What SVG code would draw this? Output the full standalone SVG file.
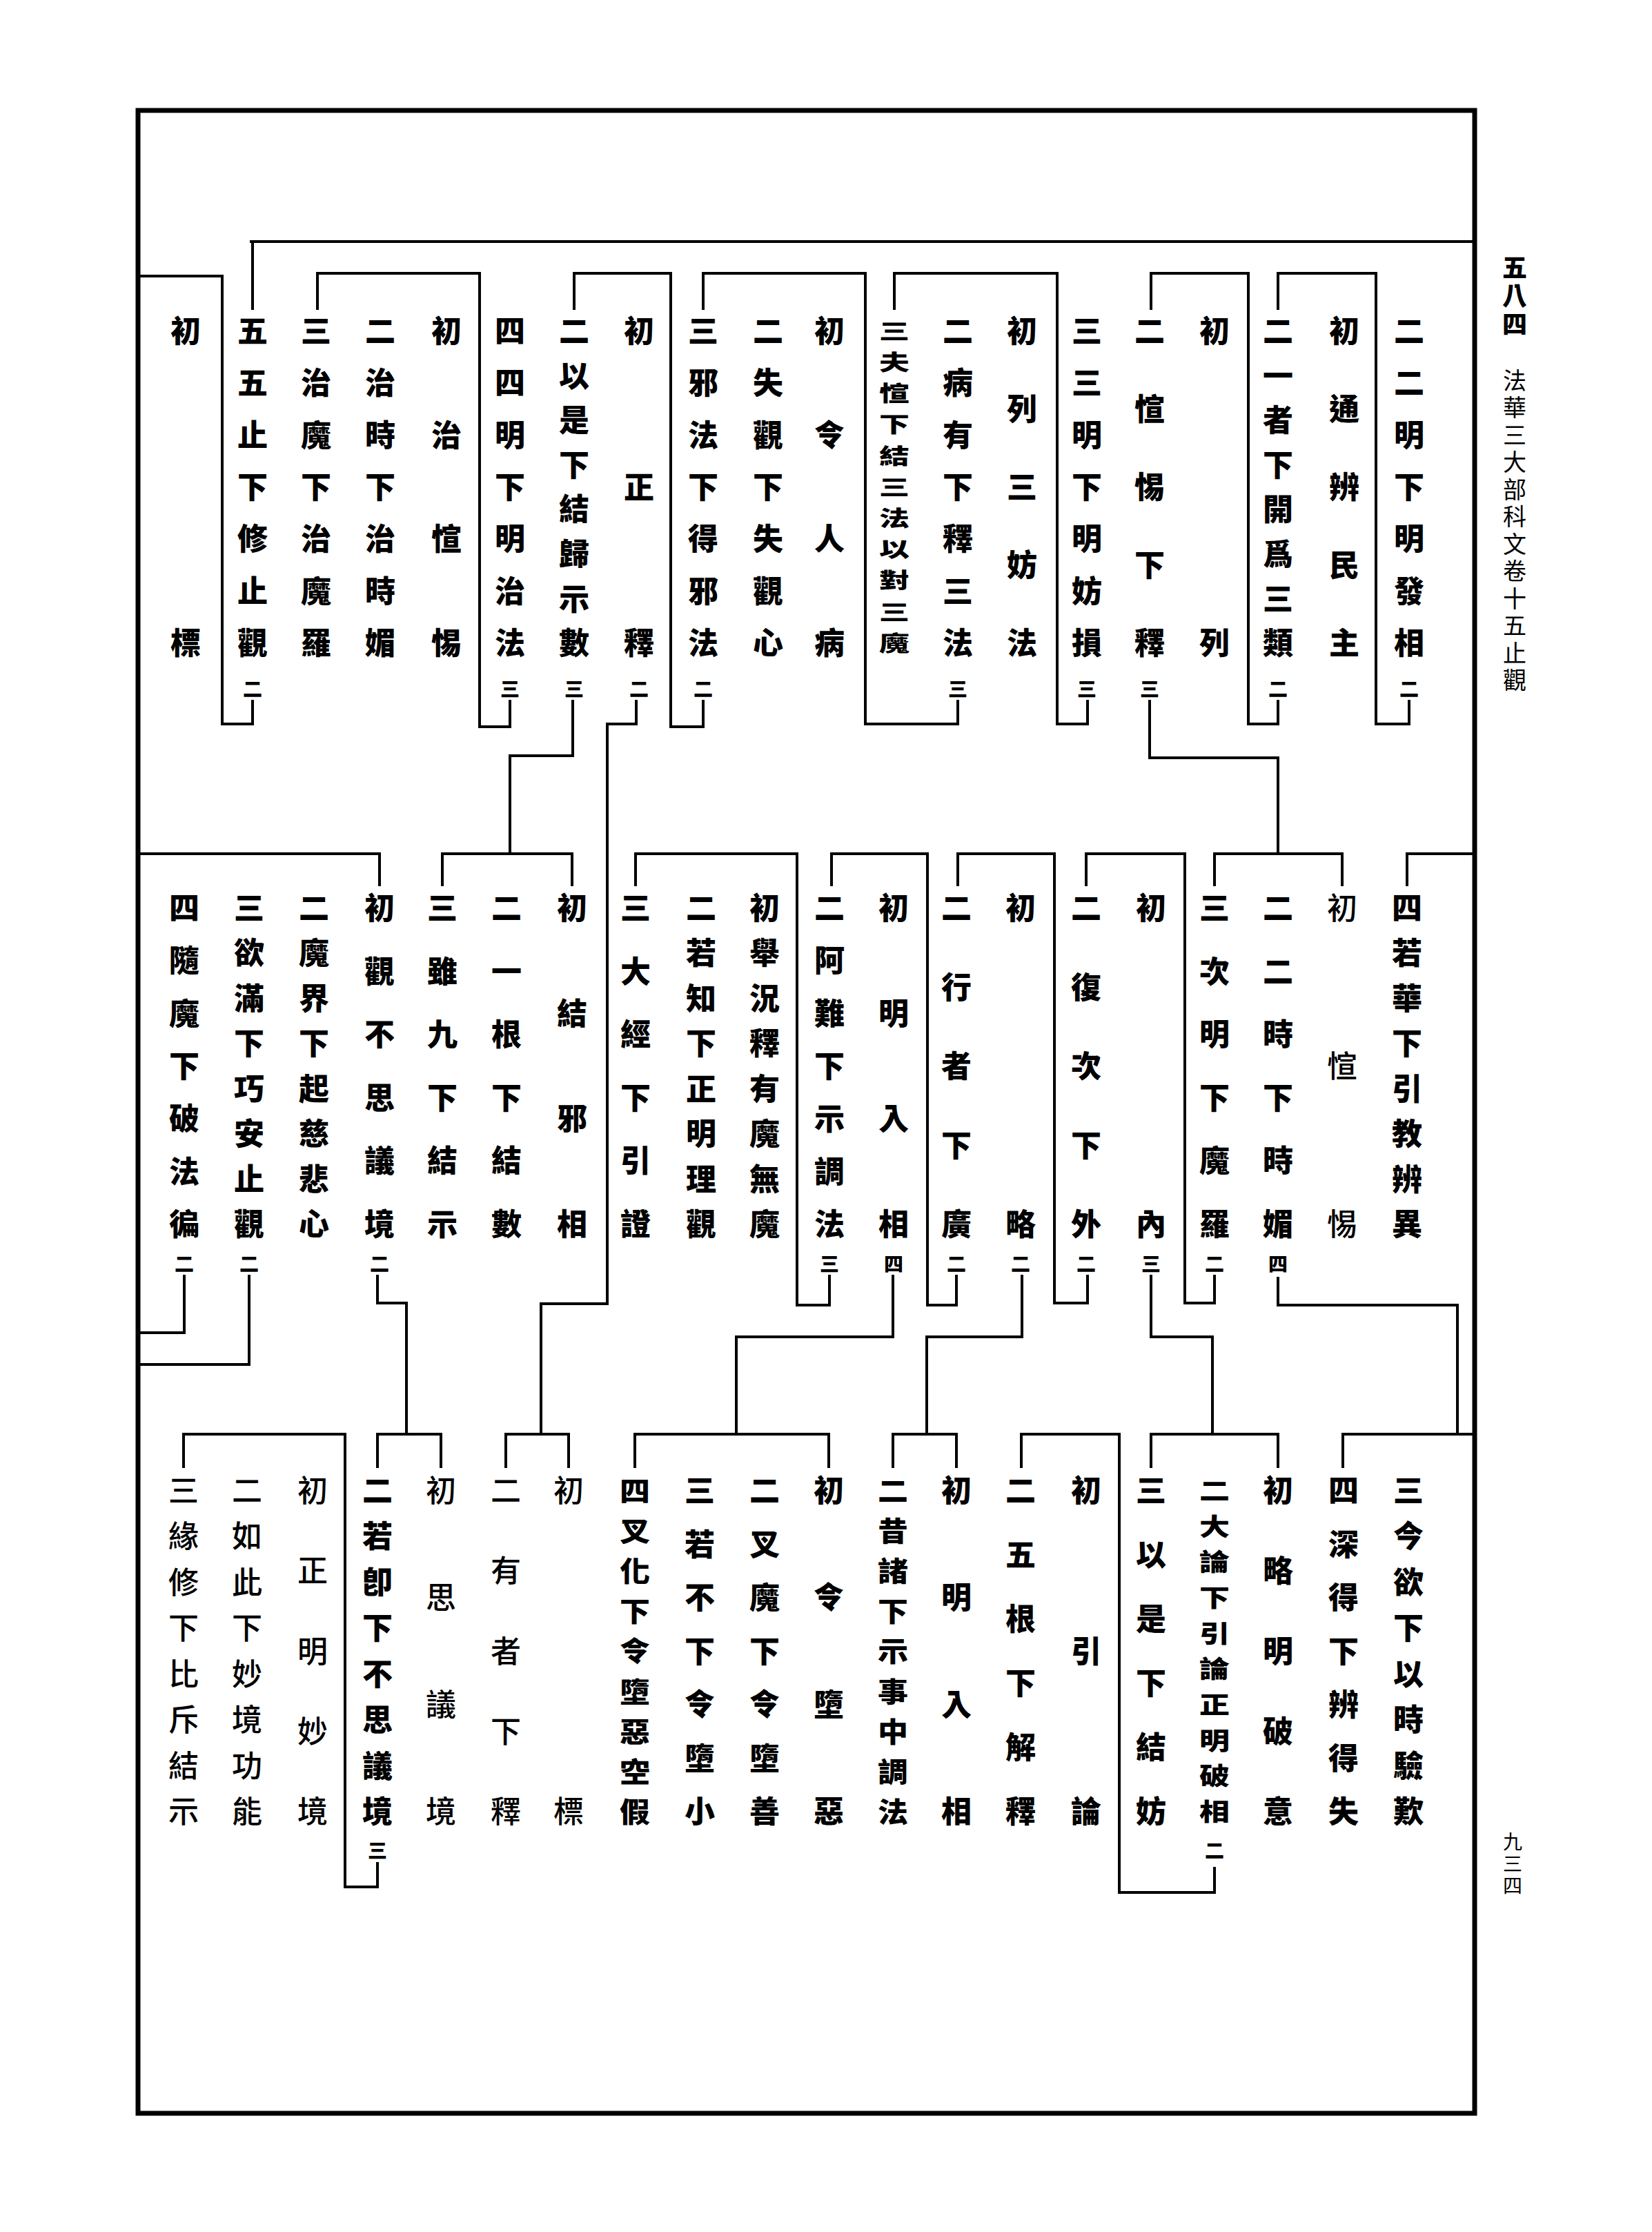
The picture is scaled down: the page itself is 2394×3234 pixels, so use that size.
<svg xmlns="http://www.w3.org/2000/svg" width="2394" height="3234" viewBox="0 0 2394 3234">
<style>
.bg{fill:#fff}
.frame{fill:none;stroke:#000;stroke-width:7}
.c{fill:none;stroke:#000;stroke-width:4;stroke-linecap:square;stroke-linejoin:miter}
.t{font-family:"Noto Sans CJK TC","Noto Sans CJK SC","Noto Sans CJK JP",sans-serif;font-size:44px;font-weight:900;text-anchor:middle;dominant-baseline:central;fill:#000}
.l{font-weight:500}
.s{font-size:28px}
.hv{font-family:"Noto Sans CJK TC","Noto Sans CJK SC",sans-serif;font-size:34px;font-weight:400;writing-mode:vertical-rl;text-anchor:start;fill:#000}
.hb{font-weight:900;font-size:36px;letter-spacing:5px}
.ht{letter-spacing:5.5px}
.pn{font-size:28px;letter-spacing:4px}
</style>
<rect class="bg" x="0" y="0" width="2394" height="3234"/>
<rect class="frame" x="200" y="160" width="1937" height="2902"/>

<g id="header">
<text class="hv hb" x="2195" y="369">五八四</text>
<text class="hv ht" x="2195" y="534">法華三大部科文卷十五止觀</text>
<text class="hv pn" x="2192" y="2654">九三四</text>
</g>

<g id="connectors">
<path class="c" d="M364,350 H2137 M366,350 V447"/>
<path class="c" d="M2042,1016 V1049 H1994 V396 H1852 V447"/>
<path class="c" d="M1852,1016 V1049 H1809 V396 H1668 V447"/>
<path class="c" d="M1666,1016 V1098 H1852 V1237"/>
<path class="c" d="M1576,1016 V1049 H1532 V396 H1296 V447"/>
<path class="c" d="M1388,1016 V1049 H1254 V396 H1019 V447"/>
<path class="c" d="M1019,1016 V1053 H972 V396 H832 V447"/>
<path class="c" d="M922,1016 V1049 H880 V1889 H784 V2078"/>
<path class="c" d="M830,1016 V1095 H739 V1237"/>
<path class="c" d="M739,1016 V1053 H695 V396 H460 V447"/>
<path class="c" d="M366,1016 V1049 H322 V400 H203"/>

<path class="c" d="M1760,1282 V1237 H1945 V1282"/>
<path class="c" d="M2137,1237 H2039 V1282"/>
<path class="c" d="M1852,1852 V1891 H2112 V2078"/>
<path class="c" d="M1760,1849 V1888 H1717 V1237 H1574 V1282"/>
<path class="c" d="M1668,1849 V1937 H1757 V2078"/>
<path class="c" d="M1576,1849 V1888 H1528 V1237 H1388 V1282"/>
<path class="c" d="M1481,1849 V1937 H1343 V2078"/>
<path class="c" d="M1386,1849 V1891 H1344 V1237 H1205 V1282"/>
<path class="c" d="M1294,1849 V1937 H1067 V2078"/>
<path class="c" d="M1202,1849 V1891 H1155 V1237 H921 V1282"/>
<path class="c" d="M829,1282 V1237 H641 V1282"/>
<path class="c" d="M203,1237 H550 V1282"/>
<path class="c" d="M547,1849 V1888 H589 V2078"/>
<path class="c" d="M361,1849 V1977 H203"/>
<path class="c" d="M267,1849 V1931 H203"/>

<path class="c" d="M1946,2125 V2078 H2137"/>
<path class="c" d="M1852,2125 V2078 H1668 V2125"/>
<path class="c" d="M1760,2707 V2742 H1622 V2078 H1480 V2125"/>
<path class="c" d="M1386,2125 V2078 H1294 V2125"/>
<path class="c" d="M1201,2125 V2078 H920 V2125"/>
<path class="c" d="M824,2125 V2078 H733 V2125"/>
<path class="c" d="M639,2125 V2078 H547 V2125"/>
<path class="c" d="M547,2700 V2734 H500 V2078 H266 V2125"/>
</g>

<g id="c1"><text class="t"><tspan x="2042" y="477">二</tspan><tspan x="2042" y="552">二</tspan><tspan x="2042" y="628">明</tspan><tspan x="2042" y="703">下</tspan><tspan x="2042" y="778">明</tspan><tspan x="2042" y="854">發</tspan><tspan x="2042" y="929">相</tspan><tspan class="s" x="2042" y="997">二</tspan></text></g>
<g id="c2"><text class="t"><tspan x="1948" y="477">初</tspan><tspan x="1948" y="590">通</tspan><tspan x="1948" y="703">辨</tspan><tspan x="1948" y="816">民</tspan><tspan x="1948" y="929">主</tspan></text></g>
<g id="c3"><text class="t"><tspan x="1852" y="477">二</tspan><tspan x="1852" y="542">一</tspan><tspan x="1852" y="606">者</tspan><tspan x="1852" y="671">下</tspan><tspan x="1852" y="735">開</tspan><tspan x="1852" y="800">爲</tspan><tspan x="1852" y="865">三</tspan><tspan x="1852" y="929">類</tspan><tspan class="s" x="1852" y="997">二</tspan></text></g>
<g id="c4"><text class="t"><tspan x="1760" y="477">初</tspan><tspan x="1760" y="929">列</tspan></text></g>
<g id="c5"><text class="t"><tspan x="1666" y="477">二</tspan><tspan x="1666" y="590">愃</tspan><tspan x="1666" y="703">惕</tspan><tspan x="1666" y="816">下</tspan><tspan x="1666" y="929">釋</tspan><tspan class="s" x="1666" y="997">三</tspan></text></g>
<g id="c6"><text class="t"><tspan x="1575" y="477">三</tspan><tspan x="1575" y="552">三</tspan><tspan x="1575" y="628">明</tspan><tspan x="1575" y="703">下</tspan><tspan x="1575" y="778">明</tspan><tspan x="1575" y="854">妨</tspan><tspan x="1575" y="929">損</tspan><tspan class="s" x="1575" y="997">三</tspan></text></g>
<g id="c7"><text class="t"><tspan x="1481" y="477">初</tspan><tspan x="1481" y="590">列</tspan><tspan x="1481" y="703">三</tspan><tspan x="1481" y="816">妨</tspan><tspan x="1481" y="929">法</tspan></text></g>
<g id="c8"><text class="t"><tspan x="1388" y="477">二</tspan><tspan x="1388" y="552">病</tspan><tspan x="1388" y="628">有</tspan><tspan x="1388" y="703">下</tspan><tspan x="1388" y="778">釋</tspan><tspan x="1388" y="854">三</tspan><tspan x="1388" y="929">法</tspan><tspan class="s" x="1388" y="997">三</tspan></text></g>
<g id="c9"><text class="t" transform="translate(0,477) scale(1,0.7)"><tspan x="1296" y="0">三</tspan><tspan x="1296" y="64.6">夫</tspan><tspan x="1296" y="129.1">愃</tspan><tspan x="1296" y="193.7">下</tspan><tspan x="1296" y="258.3">結</tspan><tspan x="1296" y="322.9">三</tspan><tspan x="1296" y="387.4">法</tspan><tspan x="1296" y="452">以</tspan><tspan x="1296" y="516.6">對</tspan><tspan x="1296" y="581.1">三</tspan><tspan x="1296" y="645.7">魔</tspan></text></g>
<g id="c10"><text class="t"><tspan x="1202" y="477">初</tspan><tspan x="1202" y="628">令</tspan><tspan x="1202" y="778">人</tspan><tspan x="1202" y="929">病</tspan></text></g>
<g id="c11"><text class="t"><tspan x="1113" y="477">二</tspan><tspan x="1113" y="552">失</tspan><tspan x="1113" y="628">觀</tspan><tspan x="1113" y="703">下</tspan><tspan x="1113" y="778">失</tspan><tspan x="1113" y="854">觀</tspan><tspan x="1113" y="929">心</tspan></text></g>
<g id="c12"><text class="t"><tspan x="1019" y="477">三</tspan><tspan x="1019" y="552">邪</tspan><tspan x="1019" y="628">法</tspan><tspan x="1019" y="703">下</tspan><tspan x="1019" y="778">得</tspan><tspan x="1019" y="854">邪</tspan><tspan x="1019" y="929">法</tspan><tspan class="s" x="1019" y="997">二</tspan></text></g>
<g id="c13"><text class="t"><tspan x="926" y="477">初</tspan><tspan x="926" y="703">正</tspan><tspan x="926" y="929">釋</tspan><tspan class="s" x="926" y="997">二</tspan></text></g>
<g id="c14"><text class="t"><tspan x="832" y="477">二</tspan><tspan x="832" y="542">以</tspan><tspan x="832" y="606">是</tspan><tspan x="832" y="671">下</tspan><tspan x="832" y="735">結</tspan><tspan x="832" y="800">歸</tspan><tspan x="832" y="865">示</tspan><tspan x="832" y="929">數</tspan><tspan class="s" x="832" y="997">三</tspan></text></g>
<g id="c15"><text class="t"><tspan x="739" y="477">四</tspan><tspan x="739" y="552">四</tspan><tspan x="739" y="628">明</tspan><tspan x="739" y="703">下</tspan><tspan x="739" y="778">明</tspan><tspan x="739" y="854">治</tspan><tspan x="739" y="929">法</tspan><tspan class="s" x="739" y="997">三</tspan></text></g>
<g id="c16"><text class="t"><tspan x="647" y="477">初</tspan><tspan x="647" y="628">治</tspan><tspan x="647" y="778">愃</tspan><tspan x="647" y="929">惕</tspan></text></g>
<g id="c17"><text class="t"><tspan x="551" y="477">二</tspan><tspan x="551" y="552">治</tspan><tspan x="551" y="628">時</tspan><tspan x="551" y="703">下</tspan><tspan x="551" y="778">治</tspan><tspan x="551" y="854">時</tspan><tspan x="551" y="929">媚</tspan></text></g>
<g id="c18"><text class="t"><tspan x="458" y="477">三</tspan><tspan x="458" y="552">治</tspan><tspan x="458" y="628">魔</tspan><tspan x="458" y="703">下</tspan><tspan x="458" y="778">治</tspan><tspan x="458" y="854">魔</tspan><tspan x="458" y="929">羅</tspan></text></g>
<g id="c19"><text class="t"><tspan x="366" y="477">五</tspan><tspan x="366" y="552">五</tspan><tspan x="366" y="628">止</tspan><tspan x="366" y="703">下</tspan><tspan x="366" y="778">修</tspan><tspan x="366" y="854">止</tspan><tspan x="366" y="929">觀</tspan><tspan class="s" x="366" y="997">二</tspan></text></g>
<g id="c20"><text class="t"><tspan x="269" y="477">初</tspan><tspan x="269" y="929">標</tspan></text></g>

<g id="m1"><text class="t"><tspan x="2039" y="1313">四</tspan><tspan x="2039" y="1378">若</tspan><tspan x="2039" y="1444">華</tspan><tspan x="2039" y="1509">下</tspan><tspan x="2039" y="1575">引</tspan><tspan x="2039" y="1640">教</tspan><tspan x="2039" y="1706">辨</tspan><tspan x="2039" y="1771">異</tspan></text></g>
<g id="m2"><text class="t l"><tspan x="1945" y="1313">初</tspan><tspan x="1945" y="1542">愃</tspan><tspan x="1945" y="1771">惕</tspan></text></g>
<g id="m3"><text class="t"><tspan x="1852" y="1313">二</tspan><tspan x="1852" y="1405">二</tspan><tspan x="1852" y="1496">時</tspan><tspan x="1852" y="1588">下</tspan><tspan x="1852" y="1679">時</tspan><tspan x="1852" y="1771">媚</tspan><tspan class="s" x="1852" y="1830">四</tspan></text></g>
<g id="m4"><text class="t"><tspan x="1760" y="1313">三</tspan><tspan x="1760" y="1405">次</tspan><tspan x="1760" y="1496">明</tspan><tspan x="1760" y="1588">下</tspan><tspan x="1760" y="1679">魔</tspan><tspan x="1760" y="1771">羅</tspan><tspan class="s" x="1760" y="1830">二</tspan></text></g>
<g id="m5"><text class="t"><tspan x="1668" y="1313">初</tspan><tspan x="1668" y="1771">內</tspan><tspan class="s" x="1668" y="1830">三</tspan></text></g>
<g id="m6"><text class="t"><tspan x="1574" y="1313">二</tspan><tspan x="1574" y="1428">復</tspan><tspan x="1574" y="1542">次</tspan><tspan x="1574" y="1657">下</tspan><tspan x="1574" y="1771">外</tspan><tspan class="s" x="1574" y="1830">二</tspan></text></g>
<g id="m7"><text class="t"><tspan x="1479" y="1313">初</tspan><tspan x="1479" y="1771">略</tspan><tspan class="s" x="1479" y="1830">二</tspan></text></g>
<g id="m8"><text class="t"><tspan x="1386" y="1313">二</tspan><tspan x="1386" y="1428">行</tspan><tspan x="1386" y="1542">者</tspan><tspan x="1386" y="1657">下</tspan><tspan x="1386" y="1771">廣</tspan><tspan class="s" x="1386" y="1830">二</tspan></text></g>
<g id="m9"><text class="t"><tspan x="1295" y="1313">初</tspan><tspan x="1295" y="1466">明</tspan><tspan x="1295" y="1618">入</tspan><tspan x="1295" y="1771">相</tspan><tspan class="s" x="1295" y="1830">四</tspan></text></g>
<g id="m10"><text class="t"><tspan x="1202" y="1313">二</tspan><tspan x="1202" y="1389">阿</tspan><tspan x="1202" y="1466">難</tspan><tspan x="1202" y="1542">下</tspan><tspan x="1202" y="1618">示</tspan><tspan x="1202" y="1695">調</tspan><tspan x="1202" y="1771">法</tspan><tspan class="s" x="1202" y="1830">三</tspan></text></g>
<g id="m11"><text class="t"><tspan x="1108" y="1313">初</tspan><tspan x="1108" y="1378">舉</tspan><tspan x="1108" y="1444">況</tspan><tspan x="1108" y="1509">釋</tspan><tspan x="1108" y="1575">有</tspan><tspan x="1108" y="1640">魔</tspan><tspan x="1108" y="1706">無</tspan><tspan x="1108" y="1771">魔</tspan></text></g>
<g id="m12"><text class="t"><tspan x="1016" y="1313">二</tspan><tspan x="1016" y="1378">若</tspan><tspan x="1016" y="1444">知</tspan><tspan x="1016" y="1509">下</tspan><tspan x="1016" y="1575">正</tspan><tspan x="1016" y="1640">明</tspan><tspan x="1016" y="1706">理</tspan><tspan x="1016" y="1771">觀</tspan></text></g>
<g id="m13"><text class="t"><tspan x="921" y="1313">三</tspan><tspan x="921" y="1405">大</tspan><tspan x="921" y="1496">經</tspan><tspan x="921" y="1588">下</tspan><tspan x="921" y="1679">引</tspan><tspan x="921" y="1771">證</tspan></text></g>
<g id="m14"><text class="t"><tspan x="829" y="1313">初</tspan><tspan x="829" y="1466">結</tspan><tspan x="829" y="1618">邪</tspan><tspan x="829" y="1771">相</tspan></text></g>
<g id="m15"><text class="t"><tspan x="734" y="1313">二</tspan><tspan x="734" y="1405">一</tspan><tspan x="734" y="1496">根</tspan><tspan x="734" y="1588">下</tspan><tspan x="734" y="1679">結</tspan><tspan x="734" y="1771">數</tspan></text></g>
<g id="m16"><text class="t"><tspan x="641" y="1313">三</tspan><tspan x="641" y="1405">雖</tspan><tspan x="641" y="1496">九</tspan><tspan x="641" y="1588">下</tspan><tspan x="641" y="1679">結</tspan><tspan x="641" y="1771">示</tspan></text></g>
<g id="m17"><text class="t"><tspan x="550" y="1313">初</tspan><tspan x="550" y="1405">觀</tspan><tspan x="550" y="1496">不</tspan><tspan x="550" y="1588">思</tspan><tspan x="550" y="1679">議</tspan><tspan x="550" y="1771">境</tspan><tspan class="s" x="550" y="1830">二</tspan></text></g>
<g id="m18"><text class="t"><tspan x="455" y="1313">二</tspan><tspan x="455" y="1378">魔</tspan><tspan x="455" y="1444">界</tspan><tspan x="455" y="1509">下</tspan><tspan x="455" y="1575">起</tspan><tspan x="455" y="1640">慈</tspan><tspan x="455" y="1706">悲</tspan><tspan x="455" y="1771">心</tspan></text></g>
<g id="m19"><text class="t"><tspan x="361" y="1313">三</tspan><tspan x="361" y="1378">欲</tspan><tspan x="361" y="1444">滿</tspan><tspan x="361" y="1509">下</tspan><tspan x="361" y="1575">巧</tspan><tspan x="361" y="1640">安</tspan><tspan x="361" y="1706">止</tspan><tspan x="361" y="1771">觀</tspan><tspan class="s" x="361" y="1830">二</tspan></text></g>
<g id="m20"><text class="t"><tspan x="267" y="1313">四</tspan><tspan x="267" y="1389">隨</tspan><tspan x="267" y="1466">魔</tspan><tspan x="267" y="1542">下</tspan><tspan x="267" y="1618">破</tspan><tspan x="267" y="1695">法</tspan><tspan x="267" y="1771">徧</tspan><tspan class="s" x="267" y="1830">二</tspan></text></g>

<g id="b1"><text class="t"><tspan x="2041" y="2157">三</tspan><tspan x="2041" y="2223">今</tspan><tspan x="2041" y="2290">欲</tspan><tspan x="2041" y="2356">下</tspan><tspan x="2041" y="2423">以</tspan><tspan x="2041" y="2489">時</tspan><tspan x="2041" y="2556">驗</tspan><tspan x="2041" y="2622">歎</tspan></text></g>
<g id="b2"><text class="t"><tspan x="1947" y="2157">四</tspan><tspan x="1947" y="2235">深</tspan><tspan x="1947" y="2312">得</tspan><tspan x="1947" y="2390">下</tspan><tspan x="1947" y="2467">辨</tspan><tspan x="1947" y="2545">得</tspan><tspan x="1947" y="2622">失</tspan></text></g>
<g id="b3"><text class="t"><tspan x="1852" y="2157">初</tspan><tspan x="1852" y="2273">略</tspan><tspan x="1852" y="2390">明</tspan><tspan x="1852" y="2506">破</tspan><tspan x="1852" y="2622">意</tspan></text></g>
<g id="b4"><text class="t" transform="translate(0,2157) scale(1,0.8)"><tspan x="1760" y="0">二</tspan><tspan x="1760" y="64.6">大</tspan><tspan x="1760" y="129.2">論</tspan><tspan x="1760" y="193.8">下</tspan><tspan x="1760" y="258.3">引</tspan><tspan x="1760" y="322.9">論</tspan><tspan x="1760" y="387.5">正</tspan><tspan x="1760" y="452.1">明</tspan><tspan x="1760" y="516.7">破</tspan><tspan x="1760" y="581.2">相</tspan></text><text class="t s" x="1760" y="2680">二</text></g>
<g id="b5"><text class="t"><tspan x="1668" y="2157">三</tspan><tspan x="1668" y="2250">以</tspan><tspan x="1668" y="2343">是</tspan><tspan x="1668" y="2436">下</tspan><tspan x="1668" y="2529">結</tspan><tspan x="1668" y="2622">妨</tspan></text></g>
<g id="b6"><text class="t"><tspan x="1574" y="2157">初</tspan><tspan x="1574" y="2390">引</tspan><tspan x="1574" y="2622">論</tspan></text></g>
<g id="b7"><text class="t"><tspan x="1479" y="2157">二</tspan><tspan x="1479" y="2250">五</tspan><tspan x="1479" y="2343">根</tspan><tspan x="1479" y="2436">下</tspan><tspan x="1479" y="2529">解</tspan><tspan x="1479" y="2622">釋</tspan></text></g>
<g id="b8"><text class="t"><tspan x="1386" y="2157">初</tspan><tspan x="1386" y="2312">明</tspan><tspan x="1386" y="2467">入</tspan><tspan x="1386" y="2622">相</tspan></text></g>
<g id="b9"><text class="t" transform="translate(0,2157) scale(1,0.9)"><tspan x="1294" y="0">二</tspan><tspan x="1294" y="64.6">昔</tspan><tspan x="1294" y="129.2">諸</tspan><tspan x="1294" y="193.8">下</tspan><tspan x="1294" y="258.3">示</tspan><tspan x="1294" y="322.9">事</tspan><tspan x="1294" y="387.5">中</tspan><tspan x="1294" y="452.1">調</tspan><tspan x="1294" y="516.7">法</tspan></text></g>
<g id="b10"><text class="t"><tspan x="1201" y="2157">初</tspan><tspan x="1201" y="2312">令</tspan><tspan x="1201" y="2467">墮</tspan><tspan x="1201" y="2622">惡</tspan></text></g>
<g id="b11"><text class="t"><tspan x="1108" y="2157">二</tspan><tspan x="1108" y="2235">叉</tspan><tspan x="1108" y="2312">魔</tspan><tspan x="1108" y="2390">下</tspan><tspan x="1108" y="2467">令</tspan><tspan x="1108" y="2545">墮</tspan><tspan x="1108" y="2622">善</tspan></text></g>
<g id="b12"><text class="t"><tspan x="1014" y="2157">三</tspan><tspan x="1014" y="2235">若</tspan><tspan x="1014" y="2312">不</tspan><tspan x="1014" y="2390">下</tspan><tspan x="1014" y="2467">令</tspan><tspan x="1014" y="2545">墮</tspan><tspan x="1014" y="2622">小</tspan></text></g>
<g id="b13"><text class="t" transform="translate(0,2157) scale(1,0.9)"><tspan x="920" y="0">四</tspan><tspan x="920" y="64.6">叉</tspan><tspan x="920" y="129.2">化</tspan><tspan x="920" y="193.8">下</tspan><tspan x="920" y="258.3">令</tspan><tspan x="920" y="322.9">墮</tspan><tspan x="920" y="387.5">惡</tspan><tspan x="920" y="452.1">空</tspan><tspan x="920" y="516.7">假</tspan></text></g>
<g id="b14"><text class="t l"><tspan x="824" y="2157">初</tspan><tspan x="824" y="2622">標</tspan></text></g>
<g id="b15"><text class="t l"><tspan x="733" y="2157">二</tspan><tspan x="733" y="2273">有</tspan><tspan x="733" y="2390">者</tspan><tspan x="733" y="2506">下</tspan><tspan x="733" y="2622">釋</tspan></text></g>
<g id="b16"><text class="t l"><tspan x="639" y="2157">初</tspan><tspan x="639" y="2312">思</tspan><tspan x="639" y="2467">議</tspan><tspan x="639" y="2622">境</tspan></text></g>
<g id="b17"><text class="t"><tspan x="547" y="2157">二</tspan><tspan x="547" y="2223">若</tspan><tspan x="547" y="2290">卽</tspan><tspan x="547" y="2356">下</tspan><tspan x="547" y="2423">不</tspan><tspan x="547" y="2489">思</tspan><tspan x="547" y="2556">議</tspan><tspan x="547" y="2622">境</tspan><tspan class="s" x="547" y="2680">三</tspan></text></g>
<g id="b18"><text class="t l"><tspan x="453" y="2157">初</tspan><tspan x="453" y="2273">正</tspan><tspan x="453" y="2390">明</tspan><tspan x="453" y="2506">妙</tspan><tspan x="453" y="2622">境</tspan></text></g>
<g id="b19"><text class="t l"><tspan x="358" y="2157">二</tspan><tspan x="358" y="2223">如</tspan><tspan x="358" y="2290">此</tspan><tspan x="358" y="2356">下</tspan><tspan x="358" y="2423">妙</tspan><tspan x="358" y="2489">境</tspan><tspan x="358" y="2556">功</tspan><tspan x="358" y="2622">能</tspan></text></g>
<g id="b20"><text class="t l"><tspan x="266" y="2157">三</tspan><tspan x="266" y="2223">緣</tspan><tspan x="266" y="2290">修</tspan><tspan x="266" y="2356">下</tspan><tspan x="266" y="2423">比</tspan><tspan x="266" y="2489">斥</tspan><tspan x="266" y="2556">結</tspan><tspan x="266" y="2622">示</tspan></text></g>
</svg>
